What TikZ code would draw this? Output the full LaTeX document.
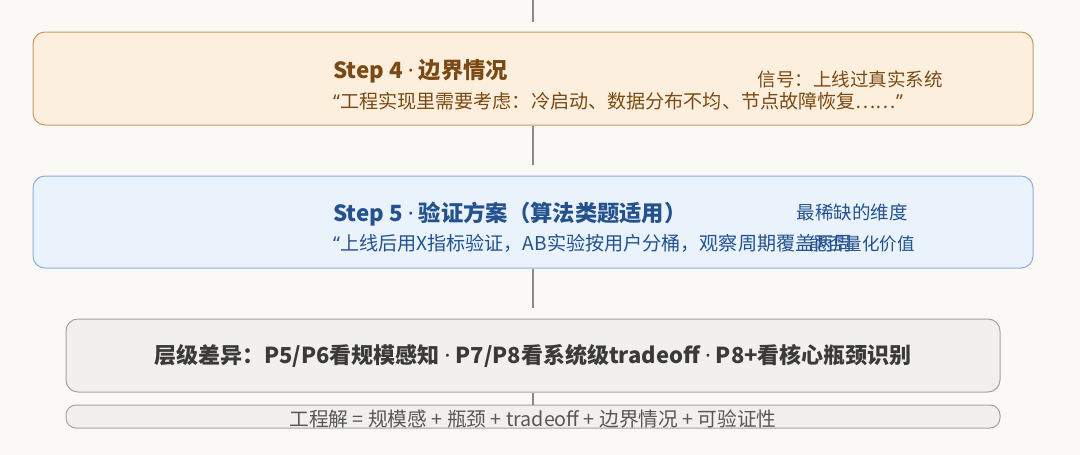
\documentclass[tikz,border=0pt]{standalone}
\usepackage{fontspec}
\setmainfont{Noto Sans CJK SC}
\newfontfamily\lat{Noto Sans}
\newcommand{\mdot}{{\lat ·}}
\newcommand{\qopen}{{\lat “}}
\newcommand{\qclose}{{\lat ”}}
\definecolor{bgc}{HTML}{FAF9F5}
\definecolor{orfill}{HTML}{FDEFDD}
\definecolor{ordraw}{HTML}{C79A66}
\definecolor{ortext}{HTML}{7B4A14}
\definecolor{blfill}{HTML}{EAF2FC}
\definecolor{bldraw}{HTML}{8FAEDB}
\definecolor{bltext}{HTML}{23528F}
\definecolor{grfill}{HTML}{F1F0EC}
\definecolor{grdraw}{HTML}{A3A3A0}
\definecolor{grtext}{HTML}{3A3A3A}
\definecolor{linec}{HTML}{8A8A8A}
\tikzset{
  panel/.style={rectangle, rounded corners=12pt, line width=1pt, inner sep=0pt},
  link/.style={draw=linec, line width=2.2pt},
  ttl/.style={anchor=base west, inner sep=0pt, font=\fontsize{22.3}{24}\selectfont\bfseries},
  quo/.style={anchor=base west, inner sep=0pt, font=\fontsize{19.1}{22}\selectfont},
  sig/.style={anchor=base east, inner sep=0pt, font=\fontsize{18.5}{21}\selectfont},
}
\begin{document}
\begin{tikzpicture}[x=1pt,y=-1pt]
\useasboundingbox (0,0) rectangle (1080,455);
\fill[bgc] (0,0) rectangle (1080,455);
% boxes
\node[panel, draw=ordraw, fill=orfill, minimum width=1000pt, minimum height=93pt] (s4) at (533,78.5) {};
\node[panel, draw=bldraw, fill=blfill, minimum width=1000pt, minimum height=92pt] (s5) at (533,222) {};
\node[panel, draw=grdraw, fill=grfill, minimum width=934pt, minimum height=73pt] (lv) at (533,355.5) {};
\node[panel, rounded corners=10pt, draw=grdraw, fill=grfill, minimum width=934pt, minimum height=23pt] (sum) at (533,416.5) {};
% connectors
\coordinate (top) at (533,0);
\coordinate (topend) at (533,22);
\draw[link] (top) -- (topend);
\coordinate (a2) at (533,165);
\draw[link] (s4.south) -- (a2);
\coordinate (b2) at (533,308);
\draw[link] (s5.south) -- (b2);
\draw[link, line width=1.5pt] (lv.south) -- (sum.north);
% step 4 texts
\node[ttl, text=ortext] (t4) at (333,78) {Step 4 \mdot{} 边界情况};
\node[sig, text=ortext] (g4) at (943,86) {信号：上线过真实系统};
\node[quo, text=ortext] (q4) at (333,108) {\qopen 工程实现里需要考虑：冷启动、数据分布不均、节点故障恢复……\qclose};
% step 5 texts
\node[ttl, text=bltext] (t5) at (333,221) {Step 5 \mdot{} 验证方案（算法类题适用）};
\node[sig, text=bltext] (g5) at (908,219) {最稀缺的维度};
\node[quo, text=bltext] (q5) at (333,250) {\qopen 上线后用X指标验证，AB实验按用户分桶，观察周期覆盖两周};
\node[quo, anchor=base east, font=\fontsize{17.5}{21}\selectfont, text=bltext] (g5b) at (915,250) {能否量化价值};
% level box
\node[font=\fontsize{22}{24}\selectfont\bfseries, text=grtext, inner sep=0pt] (lvt) at (lv.center) {层级差异：P5/P6看规模感知 \mdot{} P7/P8看系统级tradeoff \mdot{} P8+看核心瓶颈识别};
% summary
\node[font=\fontsize{19.7}{20}\selectfont, text=grtext!85!white, anchor=base, inner sep=0pt] (sumt) at (533,426) {工程解 = 规模感 + 瓶颈 + tradeoff + 边界情况 + 可验证性};
\end{tikzpicture}
\end{document}
